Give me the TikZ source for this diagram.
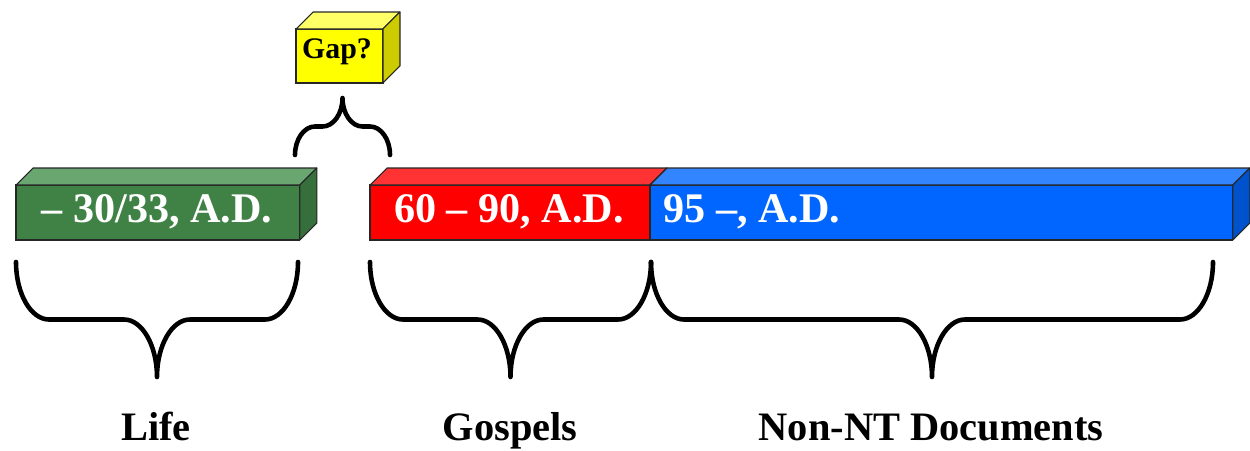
\documentclass[tikz,border=0pt]{standalone}
\usepackage{fontspec}
\setmainfont{Liberation Serif}
\usepackage{xcolor}
\usetikzlibrary{calc}

\definecolor{lifefront}{RGB}{64,130,70}
\definecolor{lifetop}{RGB}{106,166,112}
\definecolor{lifeside}{RGB}{54,110,60}
\definecolor{gospfront}{RGB}{255,0,0}
\definecolor{gosptop}{RGB}{255,51,51}
\definecolor{gospside}{RGB}{200,0,0}
\definecolor{docfront}{RGB}{0,102,255}
\definecolor{doctop}{RGB}{51,133,255}
\definecolor{docside}{RGB}{0,82,204}
\definecolor{gapfront}{RGB}{255,255,0}
\definecolor{gaptop}{RGB}{255,255,102}
\definecolor{gapside}{RGB}{204,204,0}

\tikzset{
x=0.02cm, y=-0.02cm, % one unit is one pixel of the sketch, y runs down
bar/.style={draw=black!85, line width=0.6pt, inner sep=0pt, outer sep=0pt, anchor=north west}, % front face of a block
face/.style={draw=black!85, line width=0.6pt, line join=round}, % top and side faces
brace line/.style={line width=2.6pt, line cap=round, line join=round}, % the curly braces
bartext/.style={text=white, font=\bfseries\fontsize{24}{27}\selectfont, anchor=base, inner sep=0pt}, % dates on the blocks
period/.style={font=\bfseries\fontsize{23}{26}\selectfont, anchor=base, inner sep=0pt}, % names below the braces
}

% top and right faces of a block: node, top colour, side colour, depth
\newcommand{\blockfaces}[4]{%
  \filldraw[face, fill=#2] (#1.north west) -- ++(#4,-#4) -- ($(#1.north east)+(#4,-#4)$) -- (#1.north east) -- cycle;
  \filldraw[face, fill=#3] (#1.north east) -- ++(#4,-#4) -- ($(#1.south east)+(#4,-#4)$) -- (#1.south east) -- cycle;}

% curly brace: left x, right x, end y, half height, corner width
\newcommand{\curly}[5]{%
  \draw[brace line] (#1,#3)
    .. controls (#1,{#3+0.55*#4}) and ({#1+0.45*#5},{#3+#4}) .. ({#1+#5},{#3+#4})
    -- ({(#1+#2)/2-#5},{#3+#4})
    .. controls ({(#1+#2)/2-0.45*#5},{#3+#4}) and ({(#1+#2)/2},{#3+1.45*#4}) .. ({(#1+#2)/2},{#3+2*#4})
    .. controls ({(#1+#2)/2},{#3+1.45*#4}) and ({(#1+#2)/2+0.45*#5},{#3+#4}) .. ({(#1+#2)/2+#5},{#3+#4})
    -- ({#2-#5},{#3+#4})
    .. controls ({#2-0.45*#5},{#3+#4}) and (#2,{#3+0.55*#4}) .. (#2,#3);}

\begin{document}
\begin{tikzpicture}
    \useasboundingbox (0,0) rectangle (1250,450);

    % the blocks
    \node[bar, fill=lifefront, minimum width=5.68cm, minimum height=1.1cm] (life) at (16,185) {};
    \blockfaces{life}{lifetop}{lifeside}{17}
    \node[bar, fill=gospfront, minimum width=5.6cm, minimum height=1.1cm] (gosp) at (370,185) {};
    \blockfaces{gosp}{gosptop}{gospside}{17}
    \node[bar, fill=docfront, minimum width=11.66cm, minimum height=1.1cm] (docs) at (650,185) {};
    \blockfaces{docs}{doctop}{docside}{17}
    \node[bar, fill=gapfront, minimum width=1.74cm, minimum height=1.08cm] (gap) at (296,29) {};
    \blockfaces{gap}{gaptop}{gapside}{17}

    % dates and the question
    \node[bartext] (lifedate) at (157,222) {– 30/33, A.D.};
    \node[bartext] (gospdate) at (509,222) {60 – 90, A.D.};
    \node[bartext, anchor=base west] (docsdate) at (663,222) {95 –, A.D.};
    \node[anchor=base, inner sep=0pt, font=\bfseries\fontsize{17}{20}\selectfont] (gapq) at (337,58) {Gap?};

    % braces
    \curly{295}{390}{155}{-28.5}{20}
    \curly{16}{298}{262}{57.5}{33}
    \curly{370}{651}{262}{57.5}{33}
    \curly{651}{1213}{262}{57.5}{33}

    % names
    \node[period] (lifename) at (156,440) {Life};
    \node[period] (gospname) at (510,440) {Gospels};
    \node[period] (docsname) at (931,440) {Non-NT Documents};
\end{tikzpicture}
\end{document}
